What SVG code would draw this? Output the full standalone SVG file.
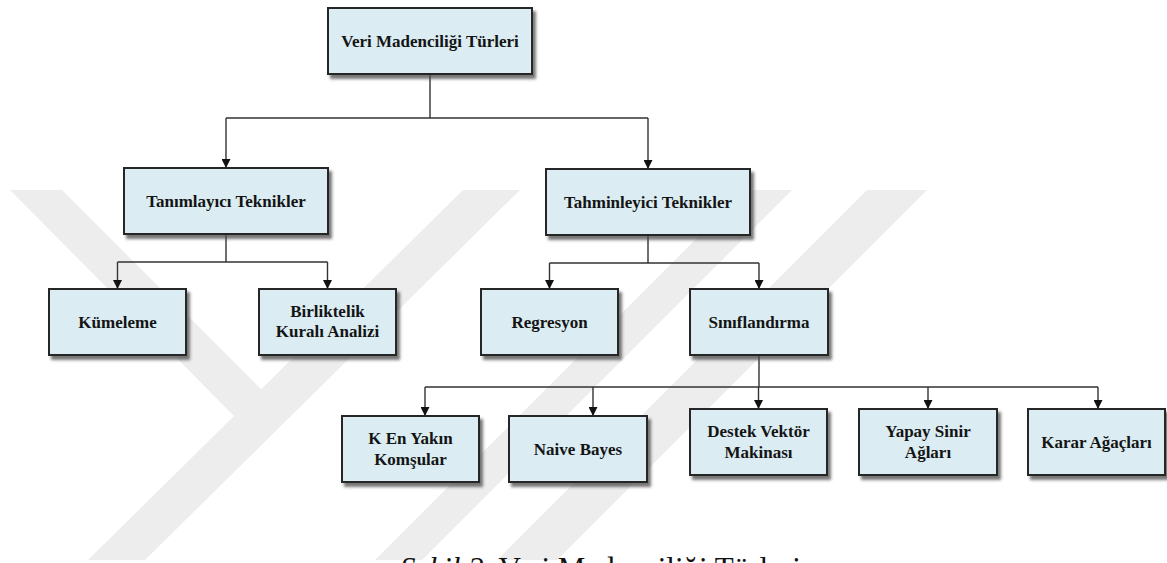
<svg xmlns="http://www.w3.org/2000/svg" width="1167" height="563" viewBox="0 0 1167 563">
  <style>
    .box { fill: #dbedf3; stroke: #262626; stroke-width: 2; filter: url(#shadow); }
    .lbl { font-family: "Liberation Serif", "Times New Roman", serif; font-weight: bold; font-size: 17px; fill: #141414; text-anchor: middle; }
    .wire { fill: none; stroke: #333333; stroke-width: 1.4; marker-end: url(#arrow); }
    .trunk { fill: none; stroke: #333333; stroke-width: 1.4; }
    .mark { fill: #ededed; }
    .cap { font-family: "Liberation Serif", "Times New Roman", serif; font-size: 31px; fill: #111111; }
  </style>
  <defs>
    <filter id="shadow" x="-10%" y="-10%" width="130%" height="140%">
      <feGaussianBlur in="SourceAlpha" stdDeviation="1.6" result="b"/>
      <feOffset in="b" dx="3" dy="4" result="o"/>
      <feFlood flood-color="#4a4a4a" flood-opacity="0.75"/>
      <feComposite in2="o" operator="in" result="s"/>
      <feMerge>
        <feMergeNode in="s"/>
        <feMergeNode in="SourceGraphic"/>
      </feMerge>
    </filter>
    <marker id="arrow" viewBox="0 0 10 10" refX="10" refY="5" markerWidth="9" markerHeight="9" markerUnits="userSpaceOnUse" orient="auto">
      <path d="M0,0 L10,5 L0,10 Z" fill="#111111"/>
    </marker>
  </defs>

  <rect width="1167" height="563" fill="#ffffff"/>

  <!-- background emblem -->
  <g id="emblem">
    <polygon class="mark" points="10,190 62,190 290,418 236,418"/>
    <polygon class="mark" points="463,190 520,190 145,560 88,560"/>
    <polygon class="mark" points="745,190 792,190 422,560 375,560"/>
    <polygon class="mark" points="867,190 927,190 557,560 497,560"/>
  </g>

  <!-- connectors -->
  <g id="connectors">
    <path class="trunk" d="M430,74 V118 M226,118 H648"/>
    <path class="wire" d="M226,118 V168"/>
    <path class="wire" d="M648,118 V169"/>
    <path class="trunk" d="M226,234 V262 M117.5,262 H327.5"/>
    <path class="wire" d="M117.5,262 V289"/>
    <path class="wire" d="M327.5,262 V289"/>
    <path class="trunk" d="M648,235 V263 M549.5,263 H759"/>
    <path class="wire" d="M549.5,263 V289"/>
    <path class="wire" d="M759,263 V289"/>
    <path class="trunk" d="M759,355 V387 M425,387 H1098"/>
    <path class="wire" d="M425,387 V416"/>
    <path class="wire" d="M593,387 V416"/>
    <path class="wire" d="M758.5,387 V409"/>
    <path class="wire" d="M928,387 V409"/>
    <path class="wire" d="M1098,387 V409"/>
  </g>

  <g id="n-root">
    <rect class="box" x="328" y="8" width="204" height="66"/>
    <text class="lbl" x="430" y="47">Veri Madenciliği Türleri</text>
  </g>
  <g id="n-tanimlayici">
    <rect class="box" x="124" y="168" width="204" height="66"/>
    <text class="lbl" x="226" y="207">Tanımlayıcı Teknikler</text>
  </g>
  <g id="n-tahminleyici">
    <rect class="box" x="546" y="169" width="204" height="66"/>
    <text class="lbl" x="648" y="208">Tahminleyici Teknikler</text>
  </g>
  <g id="n-kumeleme">
    <rect class="box" x="49" y="289" width="137" height="66"/>
    <text class="lbl" x="117.5" y="328">Kümeleme</text>
  </g>
  <g id="n-birliktelik">
    <rect class="box" x="259" y="289" width="137" height="66"/>
    <text class="lbl" x="327.5" y="317">Birliktelik</text>
    <text class="lbl" x="327.5" y="337">Kuralı Analizi</text>
  </g>
  <g id="n-regresyon">
    <rect class="box" x="481" y="289" width="137" height="66"/>
    <text class="lbl" x="549.5" y="328">Regresyon</text>
  </g>
  <g id="n-siniflandirma">
    <rect class="box" x="690" y="289" width="138" height="66"/>
    <text class="lbl" x="759" y="328">Sınıflandırma</text>
  </g>
  <g id="n-knn">
    <rect class="box" x="342" y="416" width="137" height="66"/>
    <text class="lbl" x="410.5" y="444">K En Yakın</text>
    <text class="lbl" x="410.5" y="465">Komşular</text>
  </g>
  <g id="n-naive">
    <rect class="box" x="509" y="416" width="138" height="66"/>
    <text class="lbl" x="578" y="455">Naive Bayes</text>
  </g>
  <g id="n-svm">
    <rect class="box" x="690" y="409" width="137" height="66"/>
    <text class="lbl" x="758.5" y="437">Destek Vektör</text>
    <text class="lbl" x="758.5" y="458">Makinası</text>
  </g>
  <g id="n-ysa">
    <rect class="box" x="859" y="409" width="138" height="66"/>
    <text class="lbl" x="928" y="437">Yapay Sinir</text>
    <text class="lbl" x="928" y="458">Ağları</text>
  </g>
  <g id="n-karar">
    <rect class="box" x="1028" y="409" width="137" height="66"/>
    <text class="lbl" x="1096.5" y="448">Karar Ağaçları</text>
  </g>

  <text class="cap" x="400" y="579"><tspan font-style="italic">Şekil 2.</tspan> Veri Madenciliği Türleri</text>
</svg>
